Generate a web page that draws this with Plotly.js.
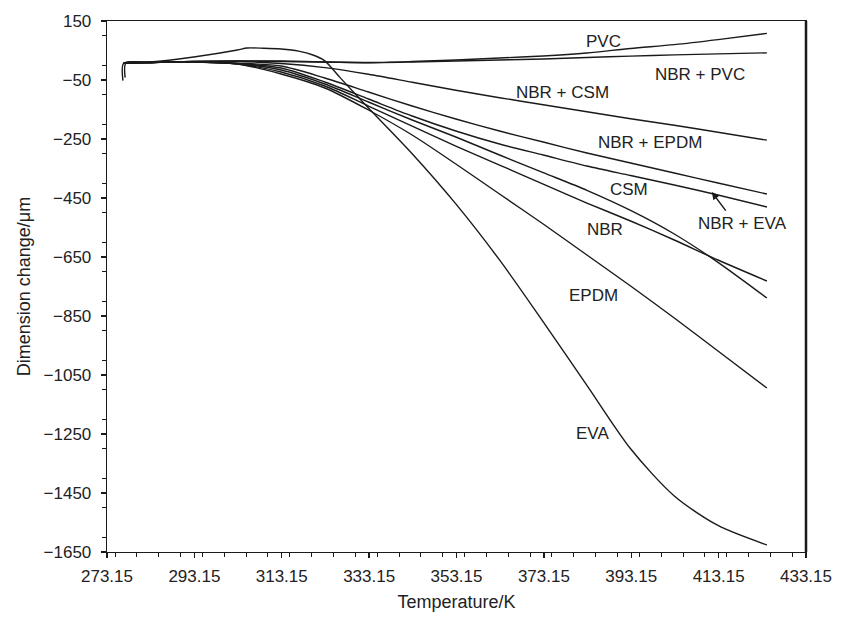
<!DOCTYPE html>
<html>
<head>
<meta charset="utf-8">
<script src="https://cdn.plot.ly/plotly-3.0.1.min.js"></script>
<style>html,body{margin:0;padding:0;background:#fff}#chart{width:842px;height:621px}</style>
</head>
<body>
<div id="chart"></div>
<script>
// Temperature (K) and dimension change (µm)
const T_grid = [277, 283, 293, 303, 313, 323, 333, 343, 353, 363, 373, 383, 393, 403, 413, 424.2];

const pvcT = [276.8, 277.0].concat(T_grid.slice(1));
const pvcV = [-52, 7.6, 9.3, 12.7, 14.4, 14.4, 11, 9.3, 12.7, 17.8, 24.6, 31.4, 41.5, 57, 70, 87, 108];

const nbrPvcT = [277.3, 277.5].concat(T_grid.slice(1));
const nbrPvcV = [-42, 7.6, 9.3, 12.7, 14.4, 12.7, 11, 8.6, 11, 14.4, 17.8, 21.2, 26.3, 31, 35, 38.5, 42];

const nbrCsmV  = [7.6, 9.3, 12.7, 12.7, 6, -8, -30.4, -57.5, -84.6, -110, -133.8, -157.5, -181.2, -203.3, -227, -254];
const nbrEpdmV = [7.6, 9.3, 11, 7, -2.6, -43.2, -90.7, -138.2, -182.2, -222.9, -260.2, -297.5, -331.4, -365.3, -399.2, -436.5];
const nbrEvaV  = [7.6, 9.3, 11, 6, -9.3, -56.8, -114.4, -172, -222.9, -267, -304.3, -341.6, -373.8, -406, -439.9, -480.5];
const csmV     = [7.6, 9.3, 11, 5, -16.1, -63.6, -124.6, -185.6, -243.2, -304.3, -364, -424, -492, -572, -668, -789];
const nbrV     = [7.6, 9.3, 11, 4.2, -22.9, -70.4, -138.2, -206, -273.8, -338.2, -402.6, -467, -528, -592.4, -660.2, -731.4];
const epdmV    = [7.6, 9.3, 11, 4.2, -29.7, -77.1, -151.7, -236.5, -334.8, -436.5, -538.2, -643.3, -748.4, -856.8, -968.7, -1094];

const evaT = [277, 283, 293, 303, 305.2, 309, 313, 317, 320.3, 323, 326.5, 333, 343, 353, 363, 373, 383, 393, 403, 413, 424.2];
const evaV = [7.6, 11, 28, 51.7, 58.5, 57.8, 55.1, 48, 34.7, 15, -42, -145, -300, -470, -660, -870, -1085, -1300, -1460, -1560, -1626];

// Curve labels
const labelText = ["PVC", "NBR + PVC", "NBR + CSM", "NBR + EPDM", "CSM", "NBR + EVA", "NBR", "EPDM", "EVA"];
const labelT    = [386.9, 408.9, 377.5, 397.4, 392.6, 418.5, 387.1, 384.4, 384.2];
const labelV    = [80, -31, -94, -263, -420, -535, -558, -779, -1247];

const lineStyle = {color: '#1a1a1a', width: 1.4};
const series = [
  [pvcT, pvcV], [nbrPvcT, nbrPvcV], [T_grid, nbrCsmV], [T_grid, nbrEpdmV],
  [T_grid, nbrEvaV], [T_grid, csmV], [T_grid, nbrV], [T_grid, epdmV], [evaT, evaV]
];
const traces = series.map(s => ({
  x: s[0], y: s[1], type: 'scatter', mode: 'lines',
  line: Object.assign({shape: 'spline', smoothing: 0.8}, lineStyle), hoverinfo: 'skip'
}));

const fam = 'Liberation Sans, Arial, sans-serif';
const font = {family: fam, size: 17, color: '#222'};
const annotations = labelText.map((t, i) => ({
  x: labelT[i], y: labelV[i], xref: 'x', yref: 'y', text: t, showarrow: false,
  font: font
}));
// arrow pointing from the NBR + EVA label to its curve
annotations.push({
  x: 411.6, y: -430, xref: 'x', yref: 'y', text: '', showarrow: true,
  arrowhead: 2, arrowsize: 1, arrowwidth: 1.5, arrowcolor: '#1a1a1a',
  ax: 15, ay: 20, standoff: 0
});

const layout = {
  width: 842, height: 621,
  margin: {l: 107, r: 36, t: 21, b: 69},
  paper_bgcolor: '#fff', plot_bgcolor: '#fff',
  showlegend: false,
  font: font,
  xaxis: {
    range: [273.15, 433.15], tick0: 273.15, dtick: 20, tickformat: '.2f',
    showgrid: false, zeroline: false, showline: true, mirror: true,
    linecolor: '#1a1a1a', linewidth: 1.3,
    ticks: 'outside', ticklen: 5, tickcolor: '#1a1a1a', tickwidth: 1.3,
    minor: {dtick: 5, ticks: 'outside', ticklen: 4, tickcolor: '#1a1a1a', tickwidth: 1, showgrid: false},
    tickfont: font, ticklabelstandoff: 3,
    title: {text: 'Temperature/K', font: {family: fam, size: 18, color: '#222'}, standoff: 10}
  },
  yaxis: {
    range: [-1650, 150], tick0: 150, dtick: 200,
    showgrid: false, zeroline: false, showline: true, mirror: true,
    linecolor: '#1a1a1a', linewidth: 1.3,
    ticks: 'outside', ticklen: 5, tickcolor: '#1a1a1a', tickwidth: 1.3,
    minor: {dtick: 100, ticks: 'outside', ticklen: 4, tickcolor: '#1a1a1a', tickwidth: 1, showgrid: false},
    tickfont: font, ticklabelstandoff: 6,
    title: {text: 'Dimension change/μm', font: {family: fam, size: 18, color: '#222'}, standoff: 8}
  },
  shapes: [{type: 'line', xref: 'paper', yref: 'paper', x0: 1, x1: 1, y0: 0, y1: 1,
            line: {color: '#1a1a1a', width: 2.5}}],
  annotations: annotations
};

Plotly.newPlot('chart', traces, layout, {staticPlot: true, displayModeBar: false});
</script>
</body>
</html>
